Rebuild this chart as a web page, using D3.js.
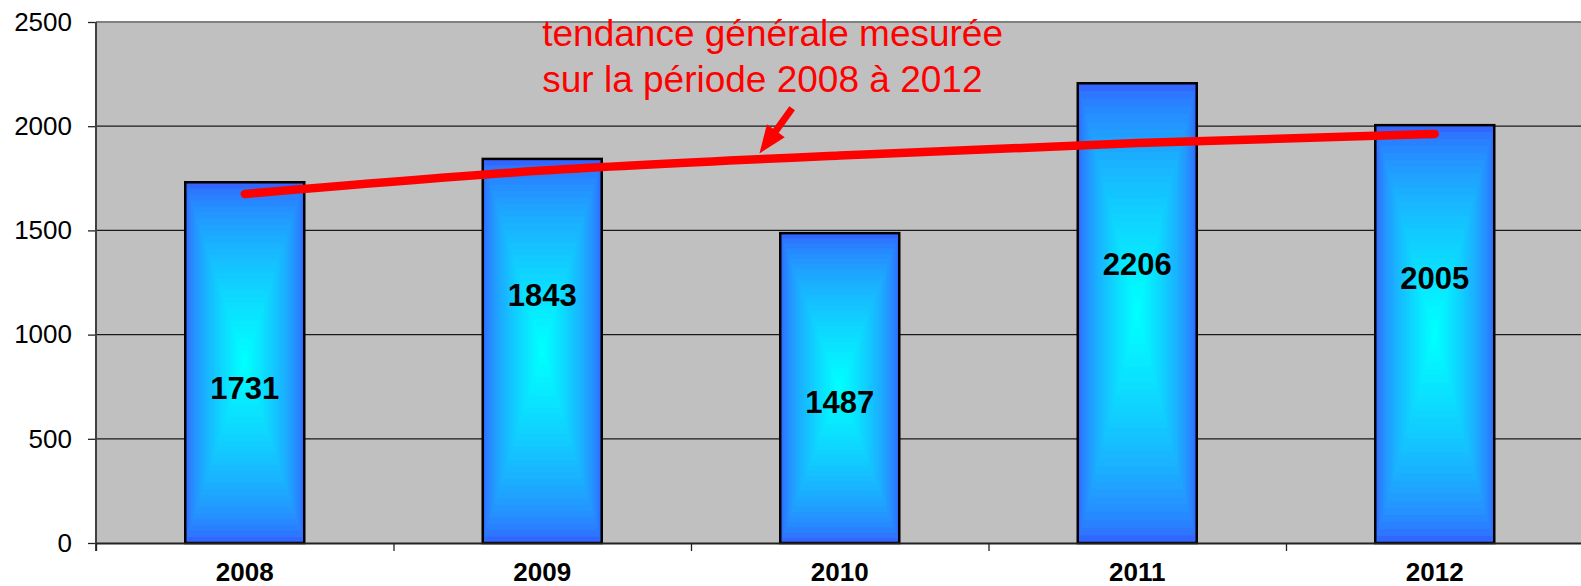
<!DOCTYPE html>
<html>
<head>
<meta charset="utf-8">
<script src="https://cdn.jsdelivr.net/npm/d3@7"></script>
<style>
body { margin: 0; background: #fff; }
svg { display: block; font-family: "Liberation Sans", Arial, sans-serif; }
</style>
</head>
<body>
<div id="chart"></div>
<script>
// Data
var years = ["2008", "2009", "2010", "2011", "2012"];
var counts = [1731, 1843, 1487, 2206, 2005];
// height (in chart units) where each value label sits inside its bar
var labelLevels = [744, 1192, 676, 1339, 1271];
// trend line, one point per year (log-shaped)
var trendValues = [1675, 1787, 1859, 1919, 1963];
var yTicks = [0, 500, 1000, 1500, 2000, 2500];
var noteLines = ["tendance générale mesurée", "sur la période 2008 à 2012"];
// annotation anchors: [position in year slots, value]
var noteAnchor = [1.5, 2386];
var arrowTail = [2.34, 2086];
var arrowTip = [2.23, 1869];

var margin = {top: 22, right: -2.5, bottom: 43, left: 96};
var width = 1581 - margin.left - margin.right;
var height = 586 - margin.top - margin.bottom;

// Scales
var xScale = d3.scaleBand()
    .domain(years)
    .range([0, width])
    .paddingInner(0.6)
    .paddingOuter(0.3);

// continuous version of the x axis, one unit per year slot
var xSlot = d3.scaleLinear()
    .domain([0, years.length])
    .range([0, width]);

var yScale = d3.scaleLinear()
    .domain([0, 2500])
    .range([height, 0]);

var svg = d3.select("#chart").append("svg")
    .attr("width", 1581)
    .attr("height", 586)
    .style("overflow", "hidden")
    .append("g")
    .attr("transform", "translate(" + margin.left + "," + margin.top + ")");

// Plot background
svg.append("rect")
    .attr("width", width)
    .attr("height", height)
    .attr("fill", "#c0c0c0");

// Gridlines
svg.selectAll(".grid")
    .data(yTicks.slice(1))
    .enter().append("line")
    .attr("class", "grid")
    .attr("x1", 0)
    .attr("x2", width)
    .attr("y1", function (d) { return yScale(d); })
    .attr("y2", function (d) { return yScale(d); })
    .attr("stroke", function (d) { return d === 2500 ? "#808080" : "#1a1a1a"; })
    .attr("stroke-width", function (d) { return d === 2500 ? 2 : 1.3; });

// Bars: rectangular gradient built from nested rects (blue edge -> cyan centre)
var steps = 30;
var shade = d3.interpolateRgb("#3366ff", "#00ffff");

var bars = svg.selectAll(".bar")
    .data(counts)
    .enter().append("g")
    .attr("class", "bar");

bars.each(function (d, i) {
    var g = d3.select(this);
    var x0 = xScale(years[i]);
    var bw = xScale.bandwidth();
    var y0 = yScale(d);
    var bh = height - y0;
    d3.range(steps).forEach(function (k) {
        var f = k / steps;
        g.append("rect")
            .attr("x", x0 + f * bw / 2)
            .attr("y", y0 + f * bh / 2)
            .attr("width", bw * (1 - f))
            .attr("height", bh * (1 - f))
            .attr("fill", shade(Math.pow(k / (steps - 1), 0.65)));
    });
    g.append("rect")
        .attr("x", x0)
        .attr("y", y0)
        .attr("width", bw)
        .attr("height", bh)
        .attr("fill", "none")
        .attr("stroke", "#000")
        .attr("stroke-width", 2.5);
});

// Value labels
svg.selectAll(".value")
    .data(counts)
    .enter().append("text")
    .attr("class", "value")
    .attr("x", function (d, i) { return xScale(years[i]) + xScale.bandwidth() / 2; })
    .attr("y", function (d, i) { return yScale(labelLevels[i]); })
    .attr("dy", "0.36em")
    .attr("text-anchor", "middle")
    .attr("font-size", 31)
    .attr("font-weight", "bold")
    .attr("fill", "#000")
    .text(function (d) { return d; });

// Y axis
var yAxis = svg.append("g")
    .attr("class", "y_axis")
    .call(d3.axisLeft(yScale).tickValues(yTicks).tickFormat(d3.format("d")).tickSize(8).tickPadding(16));
yAxis.select(".domain").remove();
yAxis.selectAll(".tick line").attr("stroke", "#222").attr("stroke-width", 1.3);
yAxis.selectAll(".tick text")
    .attr("font-size", 26)
    .attr("font-family", "Liberation Sans, Arial, sans-serif")
    .attr("fill", "#000");

// left border of the plot
svg.append("line")
    .attr("x1", 0).attr("x2", 0)
    .attr("y1", 0).attr("y2", height + 8)
    .attr("stroke", "#404040")
    .attr("stroke-width", 2);

// X axis (ticks on slot boundaries)
var xAxis = svg.append("g")
    .attr("class", "x_axis")
    .attr("transform", "translate(0," + height + ")")
    .call(d3.axisBottom(xSlot).tickValues(d3.range(years.length + 1)).tickSize(8).tickSizeOuter(0).tickFormat(""));
xAxis.select(".domain").attr("stroke", "#222").attr("stroke-width", 2);
xAxis.selectAll(".tick line").attr("stroke", "#222").attr("stroke-width", 1.3);

svg.selectAll(".year")
    .data(years)
    .enter().append("text")
    .attr("class", "year")
    .attr("x", function (d) { return xScale(d) + xScale.bandwidth() / 2; })
    .attr("y", height + 38)
    .attr("text-anchor", "middle")
    .attr("font-size", 26)
    .attr("font-weight", "bold")
    .attr("fill", "#000")
    .text(function (d) { return d; });

// Trend line
var trendLine = d3.line()
    .x(function (d, i) { return xSlot(i + 0.5); })
    .y(function (d) { return yScale(d); })
    .curve(d3.curveNatural);

svg.append("path")
    .datum(trendValues)
    .attr("d", trendLine)
    .attr("fill", "none")
    .attr("stroke", "#ff0000")
    .attr("stroke-width", 8.5)
    .attr("stroke-linecap", "round");

// Arrow pointing at the trend
var tx = xSlot(arrowTail[0]), ty = yScale(arrowTail[1]);
var hx = xSlot(arrowTip[0]), hy = yScale(arrowTip[1]);
var len = Math.sqrt((hx - tx) * (hx - tx) + (hy - ty) * (hy - ty));
var ux = (hx - tx) / len, uy = (hy - ty) / len;
var headLen = 28, headHalf = 11;
var bx = hx - ux * headLen, by = hy - uy * headLen;

svg.append("line")
    .attr("x1", tx).attr("y1", ty)
    .attr("x2", bx + ux * 2).attr("y2", by + uy * 2)
    .attr("stroke", "#ff0000")
    .attr("stroke-width", 7);

svg.append("path")
    .attr("d", "M" + hx + "," + hy +
        "L" + (bx - uy * headHalf) + "," + (by + ux * headHalf) +
        "L" + (bx + uy * headHalf) + "," + (by - ux * headHalf) + "Z")
    .attr("fill", "#ff0000");

// Annotation text
var note = svg.append("text")
    .attr("x", xSlot(noteAnchor[0]))
    .attr("y", yScale(noteAnchor[1]))
    .attr("font-size", 37)
    .attr("fill", "#ff0000");

note.selectAll("tspan")
    .data(noteLines)
    .enter().append("tspan")
    .attr("x", xSlot(noteAnchor[0]))
    .attr("dy", function (d, i) { return i === 0 ? 0 : 46; })
    .text(function (d) { return d; });
</script>
</body>
</html>
